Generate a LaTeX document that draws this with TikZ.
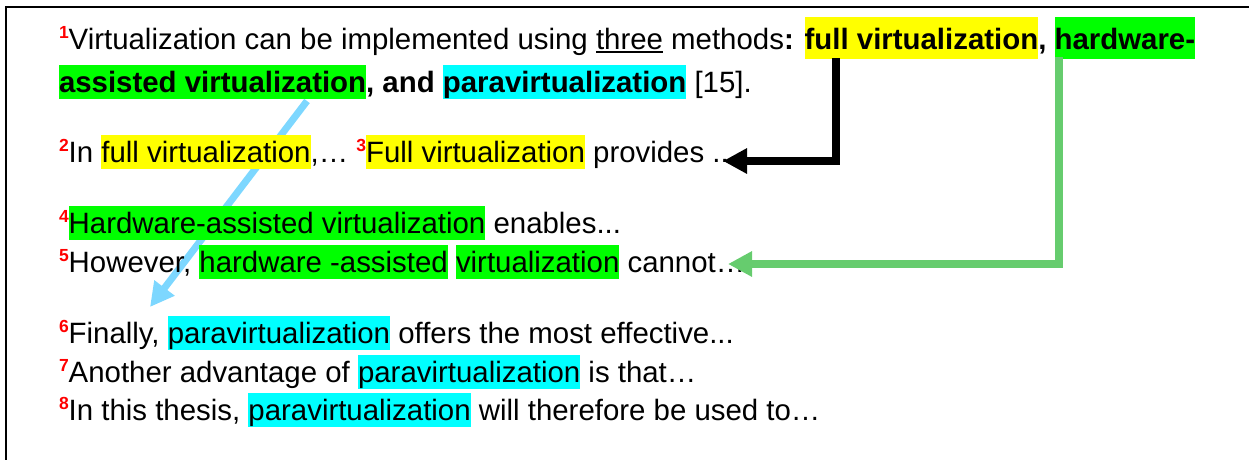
\documentclass[tikz,border=0pt]{standalone}
\usepackage{fontspec}
\setmainfont{Liberation Sans}
\usetikzlibrary{arrows.meta}
\definecolor{hly}{RGB}{255,255,0}
\definecolor{hlg}{RGB}{0,255,0}
\definecolor{hlc}{RGB}{0,255,255}
\definecolor{arrgreen}{RGB}{102,204,110}
\definecolor{arrblue}{RGB}{125,215,255}
\newcommand\hl[2]{{\setlength\fboxsep{0pt}\colorbox{#1}{\rule[-7pt]{0pt}{34pt}#2}}}
\newcommand\hlt[2]{{\setlength\fboxsep{0pt}\colorbox{#1}{\rule[-10pt]{0pt}{42pt}#2}}}
\newcommand\sn[1]{\raisebox{11pt}{\fontsize{17.5}{18}\selectfont\bfseries\color{red}#1}}
\newcommand\myul[1]{{\setbox0\hbox{#1}\rlap{\rule[-4pt]{\wd0}{2pt}}\box0}}
\begin{document}
\begin{tikzpicture}[x=1pt,y=-1pt,
  txtline/.style={font=\fontsize{29.4}{34}\selectfont, anchor=base west, inner sep=0pt, outer sep=0pt},
  fat/.style={line width=8pt},
  tipbig/.style={-{Triangle[length=24pt,width=24pt]}}]
\useasboundingbox (0,0) rectangle (1249,459);
\clip (0,0) rectangle (1249,459);
\draw[line width=2pt] (1260,7) -- (6,7) -- (6,470);
% blue arrow behind text
\coordinate (cs) at (307,101);
\coordinate (ce) at (150,307);
\draw[fat, line width=7pt, arrblue, tipbig] (cs) -- (ce);
% text lines
\node[txtline] (l1) at (59,49) {\sn{1}Virtualization can be implemented using \myul{three} methods\textbf{: \hlt{hly}{full virtualization}, \hlt{hlg}{hardware-}}};
\node[txtline] (l2) at (59,92) {\textbf{\hl{hlg}{assisted virtualization}, and \hl{hlc}{paravirtualization}} [15].};
\node[txtline] (l3) at (59,162) {\sn{2}In \hl{hly}{full virtualization},… \sn{3}\hl{hly}{Full virtualization} provides ..};
\node[txtline] (l4) at (59,233) {\sn{4}\hl{hlg}{Hardware-assisted virtualization} enables...};
\node[txtline] (l5) at (59,272) {\sn{5}However, \hl{hlg}{hardware -assisted} \hl{hlg}{virtualization} cannot…};
\node[txtline] (l6) at (59,343) {\sn{6}Finally, \hl{hlc}{paravirtualization} offers the most effective...};
\node[txtline] (l7) at (59,382) {\sn{7}Another advantage of \hl{hlc}{paravirtualization} is that…};
\node[txtline] (l8) at (59,420) {\sn{8}In this thesis, \hl{hlc}{paravirtualization} will therefore be used to…};
% black arrow
\coordinate (bs) at (836,58);
\coordinate (be) at (723,161);
\draw[fat, black, tipbig] (bs) |- (be);
% green arrow
\coordinate (gs) at (1059,57);
\coordinate (ge) at (728,264);
\draw[fat, arrgreen, tipbig] (gs) |- (ge);
\end{tikzpicture}
\end{document}
